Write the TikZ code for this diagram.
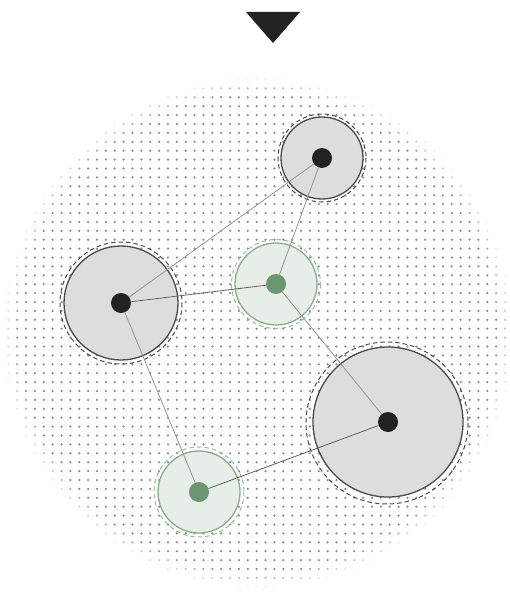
\documentclass[tikz,border=0pt]{standalone}
\usetikzlibrary{positioning}
\definecolor{ink}{HTML}{222222}
\definecolor{dotgray}{HTML}{8C8C8C}
\definecolor{diskgray}{HTML}{DDDDDD}
\definecolor{rimgray}{HTML}{4A4A4A}
\definecolor{diskgreen}{HTML}{E7EEE7}
\definecolor{rimgreen}{HTML}{88AE8B}
\definecolor{coregreen}{HTML}{6A9670}
\tikzset{
  halo/.style={draw=rimgray, dash pattern=on 4.5pt off 3pt, line width=1pt},
  halogreen/.style={draw=rimgreen!85, dash pattern=on 4.5pt off 3pt, line width=1pt},
  core/.style={circle, fill=ink, draw=none, inner sep=0pt, minimum size=20},
  coreg/.style={circle, fill=coregreen, draw=none, inner sep=0pt, minimum size=20},
  link/.style={draw=black!42, line width=0.8pt},
  linkdark/.style={draw=black!62, line width=0.8pt}
}
\begin{document}
\begin{tikzpicture}[x=1pt,y=-1pt]
		\useasboundingbox (0,0) rectangle (509,599);
		% marker
		\fill[ink] (246,12) -- (300,12) -- (273,43) -- cycle;
		% dot field
		\foreach \i in {-20,...,36}{
			\foreach \j in {-32,...,25}{
				\pgfmathsetmacro\px{185.7+8.87*\i}
				\pgfmathsetmacro\py{364.3+8.9*\j}
				\pgfmathsetmacro\fade{min(1,max(0,(256-veclen(\px-258,\py-333))/18))}
				\ifdim\fade pt>0pt
					\fill[dotgray,opacity=\fade] (\px,\py) circle (1.25);
				\fi
			}
		}
		% halos
		\draw[halo] (322,158) circle (44);
		\draw[halo] (121,303) circle (61);
		\draw[halo] (387,423) circle (81);
		\draw[halogreen] (276,284) circle (44.5);
		\draw[halogreen] (199,492) circle (45);
		\begin{scope}[every node/.style={draw=rimgray, fill=diskgray, circle, line width=1.3pt, inner sep=0pt}]
			\node (top)[minimum size=82] at (322,158) {};
			\node (lft)[minimum size=114] at (121,303) {};
			\node (big)[minimum size=150] at (388,422) {};
		\end{scope}
		\begin{scope}[every node/.style={draw=rimgreen, fill=diskgreen, circle, line width=1.3pt, inner sep=0pt}]
			\node (mid)[minimum size=82] at (276,284) {};
			\node (low)[minimum size=82] at (199,492) {};
		\end{scope}
		\node (topc)[core] at (top) {};
		\node (lftc)[core] at (lft) {};
		\node (bigc)[core] at (big) {};
		\node (midc)[coreg] at (mid) {};
		\node (lowc)[coreg] at (low) {};
		\begin{scope}[every edge/.style={link}]
			\path [-] (lftc) edge (topc);
			\path [-] (topc) edge (midc);
			\path [-] (midc) edge (bigc);
			\path [-] (lftc) edge (lowc);
			\path [-] (lftc) edge[linkdark] (midc);
			\path [-] (lowc) edge[linkdark] (bigc);
		\end{scope}
\end{tikzpicture}
\end{document}
